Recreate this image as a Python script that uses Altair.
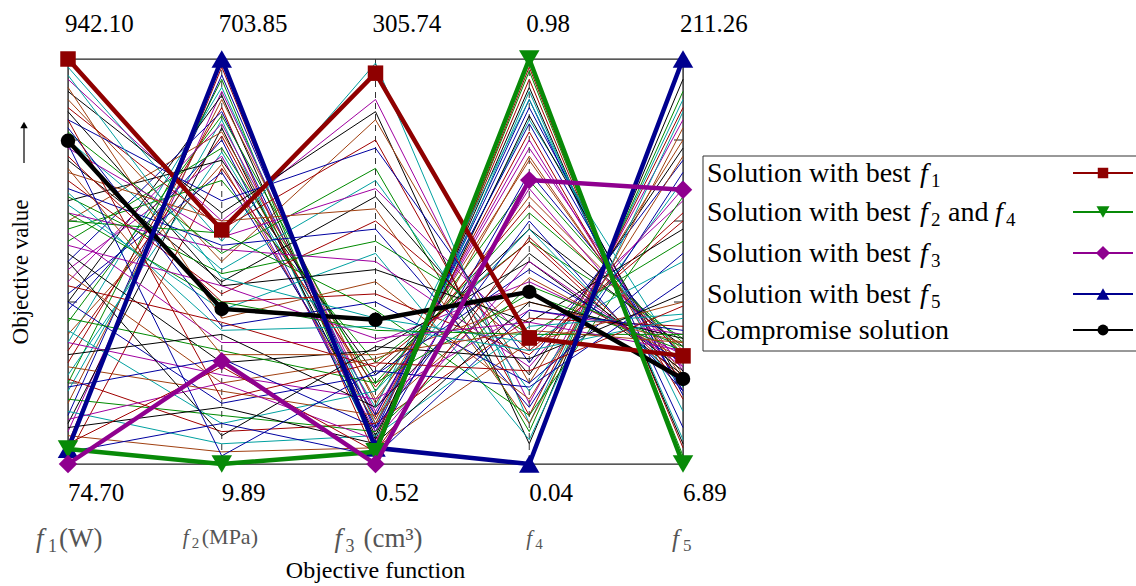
import altair as alt
import pandas as pd

# ---------------- data ----------------
axes = ["f1", "f2", "f3", "f4", "f5"]
top_labels = ["942.10", "703.85", "305.74", "0.98", "211.26"]
bottom_labels = ["74.70", "9.89", "0.52", "0.04", "6.89"]

# background Pareto solutions (normalised 0..1 on each axis)
bg_f1 = [.05, .12, .20, .30, .08, .40, .15, .25, .50, .35, .18, .45, .10, .60, .28, .38, .55, .22, .48, .65, .32, .02, .42, .58,
         .98, .95, .92, .90, .88, .85, .82, .80, .78, .75, .72, .70, .68, .66, .64, .62, .87, .93, .76, .83, .60, .96,
         .57, .52, .47, .44, .40, .36, .33, .30, .27, .24, .21, .19, .16, .13, .11, .09, .07, .05, .03, .62, .67, .54, .50, .73, .85, .79]
bg_f2 = [.98, .96, .95, .93, .92, .91, .90, .88, .87, .86, .85, .84, .83, .82, .81, .80, .78, .77, .76, .75, .74, .73, .72, .70,
         .55, .60, .62, .50, .58, .65, .52, .48, .56, .45, .60, .42, .54, .47, .38, .53, .44, .36, .40, .34, .57, .46,
         .30, .25, .20, .35, .15, .28, .10, .22, .32, .18, .08, .26, .12, .05, .20, .14, .03, .24, .10, .40, .33, .44, .07, .27, .16, .02]
bg_f3 = [.05, .08, .03, .10, .12, .06, .15, .02, .09, .18, .04, .13, .07, .16, .11, .05, .20, .14, .08, .22, .10, .19, .12, .25,
         .99, .90, .87, .85, .80, .78, .73, .70, .68, .66, .63, .60, .58, .55, .52, .50, .48, .45, .42, .40, .38, .36,
         .30, .28, .26, .24, .22, .20, .18, .16, .14, .12, .10, .09, .08, .07, .06, .05, .04, .03, .02, .33, .34, .31, .29, .27, .25, .23]
bg_f4 = [.95, .90, .97, .85, .80, .93, .75, .98, .88, .70, .92, .78, .86, .66, .82, .72, .62, .90, .68, .58, .76, .64, .84, .55,
         .10, .15, .05, .20, .12, .25, .08, .18, .30, .22, .10, .28, .14, .32, .06, .24, .35, .16, .27, .20, .12, .30,
         .45, .50, .40, .55, .48, .42, .58, .38, .52, .46, .36, .60, .44, .34, .50, .40, .30, .56, .38, .32, .28, .35, .26, .33, .23, .19]
bg_f5 = [.04, .09, .02, .25, .18, .05, .22, .01, .17, .27, .06, .23, .19, .28, .16, .26, .30, .13, .24, .29, .21, .27, .18, .31,
         .90, .85, .95, .80, .88, .75, .92, .70, .65, .78, .83, .60, .72, .55, .87, .68, .58, .76, .62, .52, .66, .50,
         .27, .22, .30, .20, .25, .28, .19, .32, .23, .26, .34, .18, .29, .37, .24, .31, .40, .21, .33, .32, .36, .28, .42, .30, .39, .45]
bg_palette = ["#a00000", "#0000a0", "#008a00", "#00a0a0", "#a000a0", "#000000", "#a04010"]

# highlighted solutions
best_f1 = [1.00, 0.578, 0.965, 0.311, 0.267]
best_f2_f4 = [0.037, 0.0, 0.030, 1.00, 0.0]
best_f3 = [0.0, 0.254, 0.0, 0.701, 0.677]
best_f5 = [0.037, 1.00, 0.040, 0.0, 1.00]
compromise = [0.798, 0.383, 0.356, 0.425, 0.210]

tick_vals = [0.2, 0.4, 0.6, 0.8]

# ---------------- layout ----------------
W, H = 615, 405
L, T = 68, 59
FONT = "'Liberation Serif', 'Times New Roman', Times, 'DejaVu Serif', serif"

bg_cols = [bg_f1, bg_f2, bg_f3, bg_f4, bg_f5]
assert all(len(c) == len(bg_f1) for c in bg_cols)
rows = []
for i in range(len(bg_f1)):
    for j, a in enumerate(axes):
        rows.append({"id": i, "axis": a, "ord": j, "value": bg_cols[j][i],
                     "color": bg_palette[i % len(bg_palette)]})
bg_df = pd.DataFrame(rows)

X = alt.X("axis:O", scale=alt.Scale(type="point", domain=axes, range=[0, W], padding=0), axis=None)
Y = alt.Y("value:Q", scale=alt.Scale(domain=[0, 1], nice=False, zero=False), axis=None)

layers = []

# dashed axis lines
layers.append(alt.Chart(pd.DataFrame({"axis": axes[1:4]})).mark_rule(
    strokeDash=[6, 5], color="#333", strokeWidth=1).encode(x=X))

# inner ticks on left and right borders
tdf = pd.DataFrame({"value": tick_vals})
layers.append(alt.Chart(tdf).mark_rule(color="#222", strokeWidth=1).encode(
    y=Y, x=alt.value(0), x2=alt.value(9)))
layers.append(alt.Chart(tdf).mark_rule(color="#222", strokeWidth=1).encode(
    y=Y, x=alt.value(W - 9), x2=alt.value(W)))

# background lines
layers.append(alt.Chart(bg_df).mark_line(strokeWidth=1).encode(
    x=X, y=Y, color=alt.Color("color:N", scale=None), detail="id:N", order="ord:Q"))


def highlight(vals, color, shape, size, sw=4.5):
    df = pd.DataFrame({"axis": axes, "ord": range(5), "value": vals})
    ln = alt.Chart(df).mark_line(color=color, strokeWidth=sw).encode(x=X, y=Y, order="ord:Q")
    pt = alt.Chart(df).mark_point(shape=shape, filled=True, size=size, color=color, opacity=1).encode(x=X, y=Y)
    return [ln, pt]


RED, GREEN, PURPLE, BLUE, BLACK = "#8f0000", "#088a08", "#8f008f", "#00008f", "#000000"
layers += highlight(compromise, BLACK, "circle", 210, 4.5)
layers += highlight(best_f1, RED, "square", 240)
layers += highlight(best_f5, BLUE, "triangle-up", 420)
layers += highlight(best_f2_f4, GREEN, "triangle-down", 420)
layers += highlight(best_f3, PURPLE, "diamond", 340)

# top / bottom range labels
layers.append(alt.Chart(pd.DataFrame({"axis": axes, "lab": top_labels})).mark_text(
    align="left", baseline="alphabetic", dx=-3, font=FONT, fontSize=25, color="black").encode(
    x=X, y=alt.value(32 - T), text="lab:N"))
layers.append(alt.Chart(pd.DataFrame({"axis": axes, "lab": bottom_labels})).mark_text(
    align="left", baseline="alphabetic", dx=0, font=FONT, fontSize=25, color="black").encode(
    x=X, y=alt.value(501 - T), text="lab:N"))


def axis_piece(axis, text, dx, ybase, size, italic=False, color="#555", align="left"):
    return alt.Chart(pd.DataFrame({"axis": [axis]})).mark_text(
        text=text, align=align, baseline="alphabetic", dx=dx, font=FONT, fontSize=size,
        fontStyle="italic" if italic else "normal", color=color).encode(x=X, y=alt.value(ybase - T))


# objective names under axes
layers += [
    axis_piece("f1", "f", -32, 547, 27, True), axis_piece("f1", "1", -20, 552, 18), axis_piece("f1", "(W)", -9, 547, 27),
    axis_piece("f2", "f", -39, 544, 21, True), axis_piece("f2", "2", -30, 548, 15), axis_piece("f2", "(MPa)", -20, 544, 22),
    axis_piece("f3", "f", -41, 547, 27, True), axis_piece("f3", "3", -30, 552, 18), axis_piece("f3", "(cm³)", -12, 547, 27),
    axis_piece("f4", "f", -3, 545, 21, True), axis_piece("f4", "4", 6, 549, 15),
    axis_piece("f5", "f", -11, 547, 25, True), axis_piece("f5", "5", 0, 551, 17),
    axis_piece("f3", "Objective function", 0, 578, 24, color="black", align="center"),
]

one = pd.DataFrame({"a": [0]})
# y title + arrow
layers.append(alt.Chart(one).mark_text(text="Objective value", angle=270, align="center", baseline="middle",
                                       font=FONT, fontSize=23, color="black").encode(
    x=alt.value(21 - L), y=alt.value(272 - T)))
layers.append(alt.Chart(one).mark_rule(color="black", strokeWidth=1.2).encode(
    x=alt.value(24 - L), y=alt.value(128 - T), y2=alt.value(163 - T)))
layers.append(alt.Chart(one).mark_point(shape="triangle-up", filled=True, size=55, color="black", opacity=1).encode(
    x=alt.value(24 - L), y=alt.value(125 - T)))

# legend
layers.append(alt.Chart(one).mark_rect(fill="white", stroke="#333", strokeWidth=1).encode(
    x=alt.value(703 - L), x2=alt.value(1145 - L), y=alt.value(156 - T), y2=alt.value(351 - T)))

leg_names = ["Solution with best", "Solution with best", "Solution with best", "Solution with best", "Compromise solution"]
leg_colors = [RED, GREEN, PURPLE, BLUE, BLACK]
leg_shapes = ["square", "triangle-down", "diamond", "triangle-up", "circle"]
leg_sizes = [110, 170, 200, 170, 120]
leg_y = [173, 212, 253, 294, 330]
leg_subs = [["1"], ["2", "4"], ["3"], ["5"], []]


def ltext(text, x, ybase, size=28, italic=False):
    return alt.Chart(one).mark_text(text=text, align="left", baseline="alphabetic", font=FONT, fontSize=size,
                                    fontStyle="italic" if italic else "normal", color="black").encode(
        x=alt.value(x - L), y=alt.value(ybase - T))


for name, col, shp, sz, yc, subs in zip(leg_names, leg_colors, leg_shapes, leg_sizes, leg_y, leg_subs):
    layers.append(alt.Chart(one).mark_rule(color=col, strokeWidth=2).encode(
        x=alt.value(1073 - L), x2=alt.value(1133 - L), y=alt.value(yc - T)))
    layers.append(alt.Chart(one).mark_point(shape=shp, filled=True, size=sz, color=col, opacity=1).encode(
        x=alt.value(1103 - L), y=alt.value(yc - T)))
    layers.append(ltext(name, 707, yc + 9))
    if subs:
        fx = 920
        layers.append(ltext("f", fx, yc + 9, italic=True))
        layers.append(ltext(subs[0], fx + 11, yc + 14, size=19))
        if len(subs) > 1:
            layers.append(ltext("and", fx + 28, yc + 9))
            layers.append(ltext("f", fx + 75, yc + 9, italic=True))
            layers.append(ltext(subs[1], fx + 86, yc + 14, size=19))

chart = alt.layer(*layers).properties(
    width=W, height=H,
    autosize=alt.AutoSizeParams(type="none"),
    padding={"left": L, "top": T, "right": 1136 - L - W, "bottom": 586 - T - H},
).configure_view(stroke="#222", strokeWidth=1.4)

chart.save("out.html", embed_options={"renderer": "svg", "actions": False})
